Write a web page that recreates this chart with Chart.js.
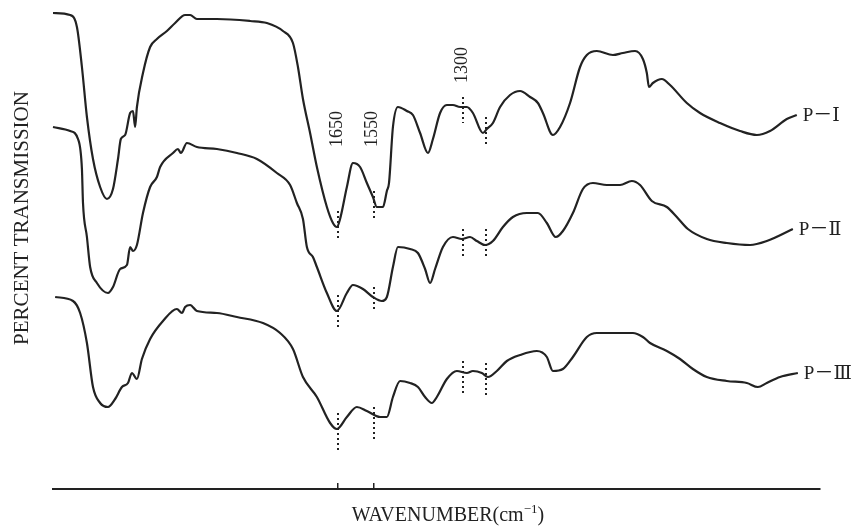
<!DOCTYPE html>
<html>
<head>
<meta charset="utf-8">
<title>IR spectra P-I / P-II / P-III</title>
<script src="https://cdn.jsdelivr.net/npm/chart.js@4.4.1/dist/chart.umd.min.js"></script>
<style>
  html, body { margin: 0; padding: 0; background: #fff; }
  canvas { display: block; }
</style>
</head>
<body>
<canvas id="spectra" width="857" height="526"></canvas>
<script>
// wavenumber (cm-1) and transmission (arbitrary units, curves are offset)
const waveP1 = [2448, 2400, 2381, 2367, 2353, 2336, 2316, 2297, 2280, 2266, 2258, 2246, 2232, 2224, 2218, 2213, 2196, 2176, 2157, 2129,
    2106, 2078, 2064, 2045, 1989, 1896, 1849, 1804, 1776, 1762, 1748, 1728, 1709, 1681, 1664, 1653, 1644, 1625, 1608, 1588,
    1569, 1552, 1541, 1524, 1513, 1507, 1496, 1482, 1457, 1440, 1420, 1398, 1384, 1364, 1345, 1328, 1308, 1289, 1272, 1244,
    1233, 1216, 1196, 1168, 1140, 1112, 1090, 1076, 1048, 1028, 1000, 972, 953, 925, 880, 852, 818, 796, 785, 779,
    768, 743, 720, 673, 636, 580, 524, 477, 440, 393, 365];
const transP1 = [119, 118.5, 115.5, 105.5, 93, 82.5, 75.5, 72.5, 75, 82.5, 87.5, 88.5, 94, 94.5, 90.5, 95.5, 104, 110.5, 112.5, 114.5,
    116.5, 118.5, 118.5, 117.5, 117.5, 117, 116.5, 114.5, 111.5, 105.5, 97.5, 89, 80.5, 70.5, 66.5, 65.5, 67.5, 75.5, 81.5, 80.5,
    76.5, 73, 70.5, 70.5, 74.5, 76.5, 90.5, 95.5, 94.5, 93.5, 89, 84, 87.5, 94, 96, 96, 95.5, 95.5, 94, 89,
    90, 91.5, 95.5, 98.5, 99.5, 98, 96.5, 94, 88.5, 90.5, 96.5, 105.5, 108.5, 109.5, 108.5, 109, 109.5, 107.5, 104, 100.5,
    101.5, 102.5, 101, 96.5, 94, 91.5, 89.5, 88.5, 89.5, 92.5, 93.5];

const waveP2 = [2448, 2400, 2378, 2367, 2364, 2353, 2344, 2325, 2294, 2280, 2260, 2241, 2232, 2224, 2213, 2196, 2176, 2157, 2148, 2112,
    2098, 2090, 2073, 2045, 1989, 1933, 1877, 1821, 1784, 1765, 1748, 1737, 1720, 1709, 1681, 1653, 1625, 1608, 1580, 1552,
    1527, 1513, 1496, 1482, 1448, 1426, 1406, 1392, 1378, 1356, 1328, 1303, 1280, 1261, 1238, 1216, 1188, 1160, 1121, 1090,
    1065, 1040, 1020, 992, 964, 936, 897, 860, 827, 804, 771, 729, 701, 670, 617, 561, 496, 449, 376];
const transP2 = [90.5, 89.5, 87.5, 80, 71.5, 63, 55.5, 51.5, 49, 50.5, 55, 56, 60.5, 59.5, 61, 69, 75.5, 78, 80.5, 84,
    85, 84, 86.5, 85.5, 85, 84, 82.5, 79, 76, 71.5, 67.5, 60.5, 58, 55.5, 49, 44.5, 49, 51, 50, 48,
    47, 48, 55.5, 60.5, 60, 59, 55, 51.5, 55, 60.5, 63, 62.5, 63, 62, 61, 62, 65.5, 68, 69, 69,
    66.5, 63, 64.5, 69, 75, 76.5, 76, 76, 77, 76, 72, 70.5, 68, 65, 62.5, 61.5, 61, 62, 65];

const waveP3 = [2442, 2392, 2372, 2353, 2336, 2316, 2294, 2274, 2255, 2238, 2227, 2213, 2199, 2176, 2140, 2101, 2087, 2078, 2064, 2045,
    1989, 1933, 1860, 1812, 1776, 1748, 1709, 1672, 1653, 1625, 1597, 1569, 1532, 1513, 1496, 1476, 1448, 1426, 1406, 1387,
    1373, 1345, 1317, 1289, 1272, 1247, 1230, 1205, 1177, 1140, 1093, 1065, 1048, 1020, 992, 953, 925, 888, 824, 796,
    776, 729, 692, 656, 617, 561, 505, 474, 449, 412, 362];
const transP3 = [48, 47, 44, 36.5, 25.5, 21.5, 20.5, 22.5, 25.5, 26.5, 29, 27.5, 32.5, 37.5, 42, 45, 44, 45.5, 46, 44.5,
    44, 43, 41.5, 39, 35, 28, 23, 16.5, 15, 18, 20.5, 19.5, 18, 18, 23, 27, 26.5, 25.5, 23, 21.5,
    23, 27.5, 29.5, 29, 29.5, 29, 28, 29.5, 32, 33.5, 34.5, 33, 29.5, 30, 33, 38, 39, 39, 39, 38,
    36.5, 34.5, 32.5, 30, 28, 27, 26.5, 25.5, 26.5, 28, 29];

const seriesLabels = ['P－Ⅰ', 'P－Ⅱ', 'P－Ⅲ'];

// dotted band markers: wavenumbers, then [top, bottom] extent per series
const markWaves = [1650, 1550, 1300, 1235];
const markP1 = [[69.5, 62], [74.5, 67.5], [98, 91.5], [93, 85.5]];
const markP2 = [[48.5, 40.5], [50.5, 44.5], [65, 58], [65, 57.5]];
const markP3 = [[19, 9], [20.5, 12.5], [32, 24], [31.5, 23.5]];

const peakLabels = ['1650', '1550', '1300'];
const peakLabelLevels = [90, 90, 106];
const axisTicks = [1650, 1550];

const FONT = "'Liberation Serif', 'DejaVu Serif', 'Noto Sans CJK JP', serif";
const INK = '#222';

function toPoints(waves, trans) {
    return waves.map((w, i) => ({x: w, y: trans[i]}));
}

function spectrumDataset(label, waves, trans) {
    return {
        label: label,
        data: toPoints(waves, trans),
        borderColor: INK,
        backgroundColor: 'transparent',
        borderWidth: 2.2,
        pointRadius: 0,
        cubicInterpolationMode: 'monotone',
        clip: false
    };
}

// dotted markers, band numbers, curve names and axis titles
const spectraDecor = {
    id: 'spectraDecor',
    afterDatasetsDraw(chart) {
        const {ctx, scales: {x, y}} = chart;
        ctx.save();

        ctx.strokeStyle = INK;
        ctx.lineWidth = 2;
        ctx.setLineDash([2, 3]);
        [markP1, markP2, markP3].forEach((spans) => {
            spans.forEach((span, j) => {
                const px = Math.round(x.getPixelForValue(markWaves[j]));
                ctx.beginPath();
                ctx.moveTo(px, y.getPixelForValue(span[0]));
                ctx.lineTo(px, y.getPixelForValue(span[1]));
                ctx.stroke();
            });
        });
        ctx.setLineDash([]);

        ctx.fillStyle = INK;
        ctx.font = '18px ' + FONT;
        ctx.textAlign = 'center';
        ctx.textBaseline = 'middle';
        peakLabels.forEach((text, i) => {
            ctx.save();
            ctx.translate(x.getPixelForValue(markWaves[i]) - 1, y.getPixelForValue(peakLabelLevels[i]));
            ctx.rotate(-Math.PI / 2);
            ctx.fillText(text, 0, 0);
            ctx.restore();
        });

        ctx.font = '19px ' + FONT;
        ctx.textAlign = 'left';
        seriesLabels.forEach((text, i) => {
            const pts = chart.getDatasetMeta(i).data;
            const last = pts[pts.length - 1];
            ctx.fillText(text, last.x + 6, last.y + 1);
        });

        // y title
        ctx.save();
        ctx.font = '21px ' + FONT;
        ctx.textAlign = 'center';
        ctx.translate(22, 218);
        ctx.rotate(-Math.PI / 2);
        ctx.fillText('PERCENT TRANSMISSION', 0, 0);
        ctx.restore();

        // x title with superscript
        ctx.textBaseline = 'alphabetic';
        ctx.font = '20px ' + FONT;
        const main = 'WAVENUMBER(cm';
        const w1 = ctx.measureText(main).width;
        const w3 = ctx.measureText(')').width;
        ctx.font = '13px ' + FONT;
        const w2 = ctx.measureText('−1').width;
        const tx = 448 - (w1 + w2 + w3) / 2;
        const base = 521;
        ctx.font = '20px ' + FONT;
        ctx.fillText(main, tx, base);
        ctx.font = '13px ' + FONT;
        ctx.fillText('−1', tx + w1, base - 8);
        ctx.font = '20px ' + FONT;
        ctx.fillText(')', tx + w1 + w2, base);

        ctx.restore();
    }
};

new Chart(document.getElementById('spectra'), {
    type: 'line',
    data: {
        datasets: [
            spectrumDataset(seriesLabels[0], waveP1, transP1),
            spectrumDataset(seriesLabels[1], waveP2, transP2),
            spectrumDataset(seriesLabels[2], waveP3, transP3)
        ]
    },
    options: {
        responsive: false,
        animation: false,
        devicePixelRatio: 1,
        layout: {padding: {left: 53, right: 37, top: 9, bottom: 37}},
        plugins: {legend: {display: false}, tooltip: {enabled: false}},
        scales: {
            x: {
                type: 'linear',
                reverse: true,
                min: 300,
                max: 2448,
                afterBuildTicks: (scale) => { scale.ticks = axisTicks.map((v) => ({value: v})); },
                afterFit: (scale) => { scale.height = 0; },
                ticks: {display: false},
                grid: {display: true, drawOnChartArea: false, drawTicks: true, tickLength: -6, color: INK, lineWidth: 1.5},
                border: {display: true, color: INK, width: 2}
            },
            y: {
                display: false,
                min: 0,
                max: 120
            }
        }
    },
    plugins: [spectraDecor]
});
</script>
</body>
</html>
